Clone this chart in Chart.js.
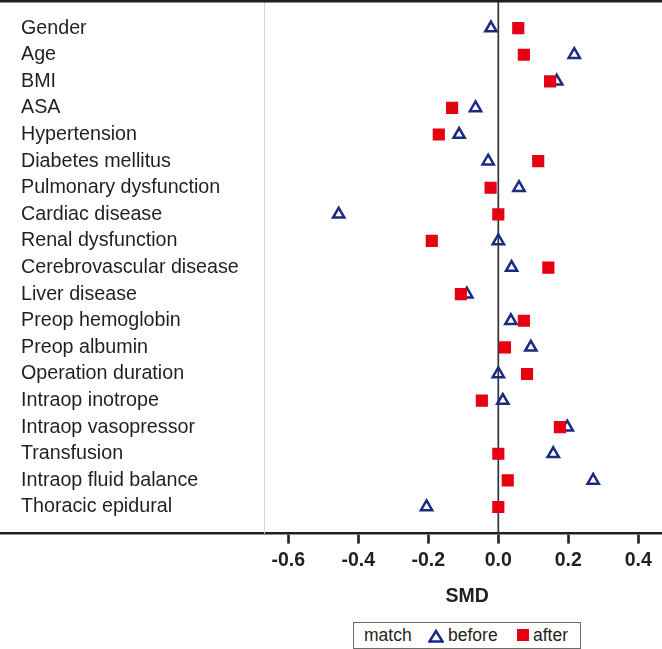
<!doctype html>
<html lang="en">
  <head>
    <meta charset="utf-8">
    <title>SMD love plot</title>
    <style>
      * { margin: 0; padding: 0; }
      body { background: #fff; font-family: "Liberation Sans", Arial, sans-serif; }
      .chartBox { position: relative; width: 662px; height: 649px; }
      .legend {
        position: absolute; left: 353px; top: 622px; width: 226px; height: 25px;
        border: 1px solid #6b6b6b; background: #fff; color: #231f20; font-size: 17.5px;
      }
      .legend span, .legend svg { position: absolute; }
    </style>
  </head>
  <body>
    <div class="chartBox">
      <canvas id="myChart"></canvas>
      <div class="legend">
        <span style="left:10px;top:2px">match</span>
        <svg style="left:74px;top:6px" width="16" height="14"><polygon points="8,2 14.5,12.5 1.5,12.5" fill="none" stroke="#1b2a84" stroke-width="2.5"/></svg>
        <span style="left:94px;top:2px">before</span>
        <svg style="left:163px;top:6px" width="12" height="12"><rect x="0" y="0" width="12" height="12" fill="#e60012"/></svg>
        <span style="left:179px;top:2px">after</span>
      </div>
    </div>
    <script src="https://cdn.jsdelivr.net/npm/chart.js/dist/chart.umd.min.js"></script>
    <script>
    // setup
    const covariates = ['Gender', 'Age', 'BMI', 'ASA', 'Hypertension', 'Diabetes mellitus',
      'Pulmonary dysfunction', 'Cardiac disease', 'Renal dysfunction', 'Cerebrovascular disease',
      'Liver disease', 'Preop hemoglobin', 'Preop albumin', 'Operation duration', 'Intraop inotrope',
      'Intraop vasopressor', 'Transfusion', 'Intraop fluid balance', 'Thoracic epidural'];
    const smdBefore = [-0.021, 0.217, 0.167, -0.065, -0.112, -0.029, 0.059, -0.456, 0.0, 0.038,
      -0.09, 0.036, 0.093, 0.0, 0.013, 0.197, 0.157, 0.271, -0.205];
    const smdAfter = [0.057, 0.073, 0.148, -0.132, -0.17, 0.114, -0.022, 0.0, -0.19, 0.143,
      -0.107, 0.073, 0.019, 0.082, -0.047, 0.176, 0.0, 0.027, 0.0];
    const xTicks = [-0.6, -0.4, -0.2, 0.0, 0.2, 0.4];
    const panelEdge = -0.67;

    const ink = '#231f20';
    const boldFont = 'bold 19.5px "Liberation Sans", Arial, sans-serif';

    const toPoints = arr => arr.map((v, i) => ({ x: v, y: i }));

    // lines, covariate names and axis title
    const decor = {
      id: 'decor',
      beforeDatasetsDraw(chart) {
        const { ctx, chartArea, scales: { x, y } } = chart;
        ctx.save();
        // light panel separator
        ctx.strokeStyle = '#d6d6d6';
        ctx.lineWidth = 1;
        ctx.beginPath();
        const px = Math.round(x.getPixelForValue(panelEdge)) + 0.5;
        ctx.moveTo(px, chartArea.top);
        ctx.lineTo(px, chartArea.bottom);
        ctx.stroke();
        // zero line
        ctx.strokeStyle = '#333';
        ctx.lineWidth = 1.7;
        ctx.beginPath();
        const zx = x.getPixelForValue(0);
        ctx.moveTo(zx, chartArea.top);
        ctx.lineTo(zx, chartArea.bottom);
        ctx.stroke();
        // top frame line
        ctx.strokeStyle = ink;
        ctx.lineWidth = 2.6;
        ctx.beginPath();
        ctx.moveTo(0, 1.3);
        ctx.lineTo(chart.width, 1.3);
        ctx.stroke();
        // covariate names
        ctx.fillStyle = ink;
        ctx.font = '19.7px "Liberation Sans", Arial, sans-serif';
        ctx.textBaseline = 'middle';
        ctx.textAlign = 'left';
        covariates.forEach((name, i) => {
          ctx.fillText(name, 21, y.getPixelForValue(i));
        });
        // axis title, centred under the data panel
        ctx.font = boldFont;
        ctx.textAlign = 'center';
        ctx.fillText('SMD', (px + chartArea.right) / 2 + 4, 597);
        ctx.restore();
      }
    };

    const data = {
      datasets: [{
        label: 'before',
        data: toPoints(smdBefore),
        pointStyle: 'triangle',
        pointRadius: 6.5,
        pointBorderWidth: 2.5,
        borderColor: '#1b2a84',
        backgroundColor: 'rgba(255,255,255,0)',
        order: 2
      }, {
        label: 'after',
        data: toPoints(smdAfter),
        pointStyle: 'rect',
        pointRadius: 8.6,
        pointBorderWidth: 0,
        borderColor: '#e60012',
        backgroundColor: '#e60012',
        order: 1
      }]
    };

    // config
    const config = {
      type: 'scatter',
      data,
      plugins: [decor],
      options: {
        responsive: true,
        maintainAspectRatio: false,
        animation: false,
        layout: { autoPadding: false, padding: { top: 1.5, bottom: 72, left: 0, right: 0 } },
        plugins: { legend: { display: false }, tooltip: { enabled: false } },
        scales: {
          x: {
            type: 'linear',
            min: -1.4237,
            max: 0.4677,
            afterBuildTicks: scale => { scale.ticks = xTicks.map(v => ({ value: v })); },
            border: { display: true, color: ink, width: 2.6 },
            grid: { drawOnChartArea: false, drawTicks: true, tickLength: 10, tickWidth: 2.6, tickColor: ink },
            ticks: {
              padding: 5,
              color: ink,
              font: { family: '"Liberation Sans", Arial, sans-serif', size: 19.5, weight: 'bold' },
              callback: v => Number(v).toFixed(1)
            }
          },
          y: {
            type: 'linear',
            display: false,
            reverse: true,
            min: -1,
            max: 19
          }
        }
      }
    };

    const myChart = new Chart(document.getElementById('myChart'), config);
    </script>
  </body>
</html>
